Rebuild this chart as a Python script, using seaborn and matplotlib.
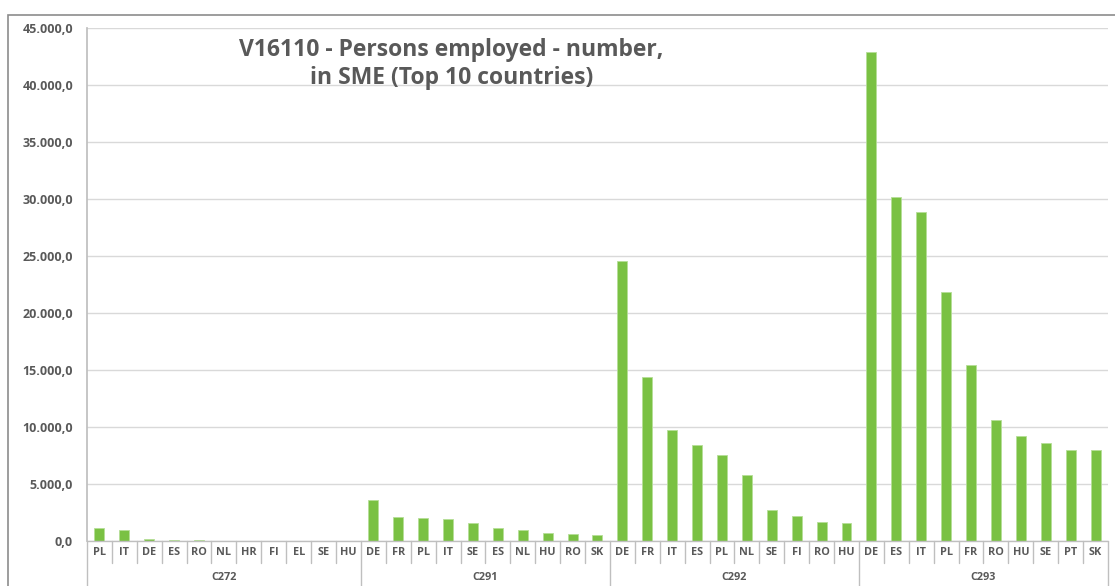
import numpy as np
import pandas as pd
import matplotlib
matplotlib.use("Agg")
import matplotlib.pyplot as plt
import matplotlib.transforms as mtransforms
from matplotlib.patches import Rectangle
from matplotlib.ticker import FuncFormatter, MultipleLocator
import seaborn as sns

# values
groups = ["C272", "C291", "C292", "C293"]
countries_c272 = ["PL", "IT", "DE", "ES", "RO", "NL", "HR", "FI", "EL", "SE", "HU"]
values_c272 = [1120, 960, 200, 80, 60, 0, 0, 0, 0, 0, 0]
countries_c291 = ["DE", "FR", "PL", "IT", "SE", "ES", "NL", "HU", "RO", "SK"]
values_c291 = [3600, 2100, 2020, 1900, 1550, 1140, 940, 730, 640, 530]
countries_c292 = ["DE", "FR", "IT", "ES", "PL", "NL", "SE", "FI", "RO", "HU"]
values_c292 = [24590, 14390, 9730, 8440, 7520, 5800, 2750, 2220, 1700, 1600]
countries_c293 = ["DE", "ES", "IT", "PL", "FR", "RO", "HU", "SE", "PT", "SK"]
values_c293 = [42900, 30180, 28860, 21880, 15420, 10600, 9250, 8600, 8000, 7950]

title = "V16110 - Persons employed - number,\nin SME (Top 10 countries)"

# build the long table
countries_by_group = [countries_c272, countries_c291, countries_c292, countries_c293]
values_by_group = [values_c272, values_c291, values_c292, values_c293]
rows = []
for g, cs, vs in zip(groups, countries_by_group, values_by_group):
    for c, v in zip(cs, vs):
        rows.append({"group": g, "country": c, "value": v, "slot": g + "_" + c})
df = pd.DataFrame(rows)

txt = "#595959"
green = "#7AC143"
line_col = "#BFBFBF"

sns.set_theme(style="white")
plt.rcParams["font.family"] = ["Open Sans", "DejaVu Sans"]

fig = plt.figure(figsize=(11.15, 5.86), dpi=100)
ax = fig.add_axes([0.078, 0.0768, 0.9157, 0.8754])

sns.barplot(data=df, x="slot", y="value", color=green, saturation=1, width=0.4,
            edgecolor="#B5DE97", linewidth=0.6, ax=ax)

ax.set_xlim(-0.5, len(df) - 0.5)
ax.set_ylim(0, 45000)
ax.yaxis.set_major_locator(MultipleLocator(5000))
ax.yaxis.set_major_formatter(FuncFormatter(
    lambda v, p: f"{v:,.1f}".replace(",", "X").replace(".", ",").replace("X", ".")))
ax.grid(axis="y", color="#D9D9D9", lw=1)
ax.set_axisbelow(True)
for s in ["top", "right", "bottom"]:
    ax.spines[s].set_visible(False)
ax.spines["left"].set_color(line_col)
ax.tick_params(axis="y", length=4, color=line_col, labelsize=9, labelcolor=txt, pad=6)
ax.set_xticks([])
ax.set_xlabel("")
ax.set_ylabel("")
for lab in ax.get_yticklabels():
    lab.set_fontweight("bold")

# multi-level category axis
trans = mtransforms.blended_transform_factory(ax.transData, ax.transAxes)
short_y = -0.043
long_y = -0.09
ax.plot([-0.5, len(df) - 0.5], [0, 0], transform=trans, color=line_col, lw=1, clip_on=False)
for i, c in enumerate(df["country"]):
    ax.text(i, -0.022, c, transform=trans, ha="center", va="center",
            fontsize=7.8, fontweight="bold", color=txt)
start = 0
for g, cs in zip(groups, countries_by_group):
    for k in range(1, len(cs)):
        ax.plot([start + k - 0.5] * 2, [0, short_y], transform=trans,
                color=line_col, lw=1, clip_on=False)
    ax.plot([start - 0.5] * 2, [0, long_y], transform=trans,
            color=line_col, lw=1, clip_on=False)
    ax.text(start + (len(cs) - 1) / 2, -0.072, g, transform=trans, ha="center",
            va="center", fontsize=7.8, fontweight="bold", color=txt)
    start += len(cs)
ax.plot([start - 0.5] * 2, [0, long_y], transform=trans,
        color=line_col, lw=1, clip_on=False)

ax.text(0.357, 0.93, title, transform=ax.transAxes, ha="center", va="center",
        fontsize=16.5, fontweight="bold", color=txt, linespacing=1.2)

# outer chart frame
fig.patches.append(Rectangle((0.0075, -0.1), 2, 1.075, transform=fig.transFigure,
                             fill=False, edgecolor="#8C8C8C", lw=1.2))

fig.savefig("out.png", dpi=100)
